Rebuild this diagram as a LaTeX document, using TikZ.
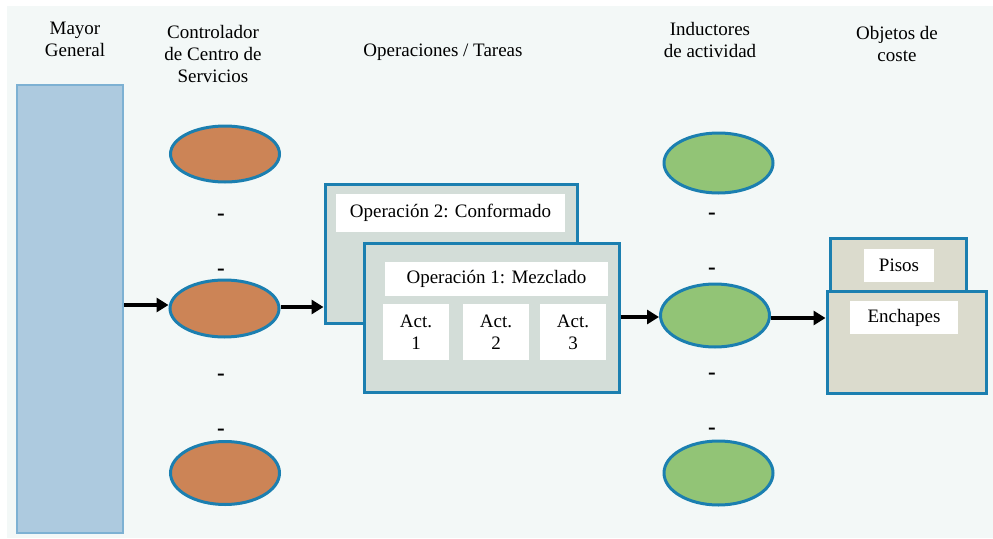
\documentclass[tikz,border=0pt]{standalone}
\usepackage{fontspec}
\setmainfont{Liberation Serif}
\usetikzlibrary{shapes.geometric,arrows.meta}
\definecolor{bgc}{HTML}{F3F8F7}
\definecolor{bluefill}{HTML}{ADCADF}
\definecolor{blueline}{HTML}{7DB1D3}
\definecolor{bordc}{HTML}{1B7FB0}
\definecolor{orangec}{HTML}{CC8456}
\definecolor{greenc}{HTML}{92C476}
\definecolor{opfill}{HTML}{D3DDD8}
\definecolor{costfill}{HTML}{DBDBCD}
\begin{document}
\begin{tikzpicture}[x=1pt,y=-1pt,
  font=\fontsize{19}{22}\selectfont,
  hdr/.style={align=center, inner sep=0pt},
  panel/.style={draw=bordc, line width=3pt, inner sep=0pt},
  wbox/.style={fill=white, inner sep=0pt, align=center},
  ell/.style={ellipse, draw=bordc, line width=3pt, inner sep=0pt, minimum width=109pt},
  dashtxt/.style={anchor=base, inner sep=0pt, font=\fontsize{23}{22}\selectfont\bfseries},
  arr/.style={line width=3.3pt, -{Triangle[length=12pt,width=14pt]}}]
\useasboundingbox (0,0) rectangle (993,538);
\fill[bgc] (7,6) rectangle (993,538);

% headers
\node[hdr] (h1) at (75,39) {Mayor\\General};
\node[hdr] (h2) at (213,54) {Controlador\\de Centro de\\Servicios};
\node[hdr] (h3) at (443,52) {Operaciones / Tareas};
\node[hdr] (h4) at (710,40) {Inductores\\de actividad};
\node[hdr] (h5) at (897,44) {Objetos de\\coste};

% mayor general column
\node[draw=blueline, fill=bluefill, line width=2.2pt, inner sep=0pt,
  minimum width=106pt, minimum height=448pt] (mg) at (70,309) {};

% orange ellipses
\node[ell, fill=orangec, minimum height=56pt] (o1) at (225,154) {};
\node[ell, fill=orangec, minimum height=57pt] (o2) at (224.5,308.5) {};
\node[ell, fill=orangec, minimum height=63pt] (o3) at (225,473) {};
\node[dashtxt] (od1) at (221,220) {-};
\node[dashtxt] (od2) at (221,275.5) {-};
\node[dashtxt] (od3) at (221,380) {-};
\node[dashtxt] (od4) at (221,435) {-};

% green ellipses
\node[ell, fill=greenc, minimum height=60pt] (g1) at (718.5,163) {};
\node[ell, fill=greenc, minimum height=63pt] (g2) at (715,315.5) {};
\node[ell, fill=greenc, minimum height=64pt] (g3) at (718.5,473) {};
\node[dashtxt] (gd1) at (712,219) {-};
\node[dashtxt] (gd2) at (712,274) {-};
\node[dashtxt] (gd3) at (712,379) {-};
\node[dashtxt] (gd4) at (712,434) {-};

% operations
\node[panel, fill=opfill, minimum width=252pt, minimum height=139pt] (op2) at (451,253.5) {};
\node[wbox, minimum width=229pt, minimum height=38pt] (op2l) at (450.5,213) {Operación 2: Conformado};
\node[panel, fill=opfill, minimum width=255pt, minimum height=149pt] (op1) at (491.5,317.5) {};
\node[wbox, minimum width=223pt, minimum height=34pt] (op1l) at (496.5,278.5) {Operación 1: Mezclado};
\node[wbox, minimum width=66pt, minimum height=56pt] (a1) at (416,332) {Act.\\1};
\node[wbox, minimum width=66pt, minimum height=56pt] (a2) at (496,332) {Act.\\2};
\node[wbox, minimum width=66pt, minimum height=56pt] (a3) at (573,332) {Act.\\3};

% cost objects
\node[panel, fill=costfill, minimum width=136pt, minimum height=62pt] (pis) at (898,269) {};
\node[wbox, minimum width=70pt, minimum height=33pt] (pisl) at (899,265.5) {Pisos};
\node[panel, fill=costfill, minimum width=159pt, minimum height=102pt] (ench) at (906.5,342) {};
\node[wbox, minimum width=108pt, minimum height=33pt] (enchl) at (904,317.5) {Enchapes};

% connectors
\draw[arr] ([yshift=3.5pt]mg.east |- o2.west) -- ([yshift=3.5pt]o2.west);
\draw[arr] ([yshift=1.5pt]o2.east) -- ([yshift=1.5pt]o2.east -| op2.west);
\draw[arr] ([yshift=-1.5pt]op1.east |- g2.west) -- ([yshift=-1.5pt]g2.west);
\draw[arr] ([yshift=-2.5pt]g2.east) -- ([yshift=-2.5pt]g2.east -| ench.west);
\end{tikzpicture}
\end{document}
